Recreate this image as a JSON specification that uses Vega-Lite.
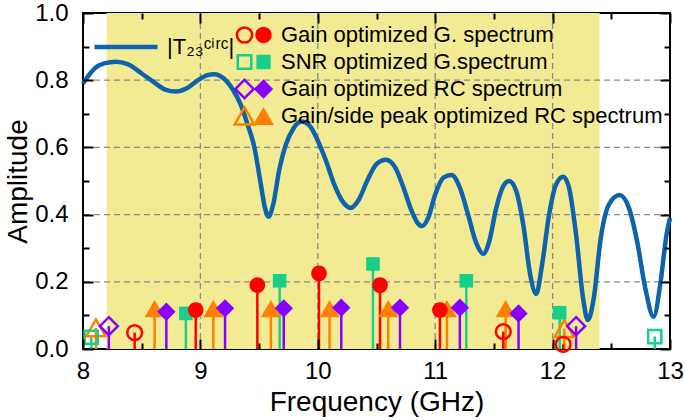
{
  "$schema": "https://vega.github.io/schema/vega-lite/v6.json",
  "width": 587,
  "height": 336,
  "autosize": {"type": "none"},
  "padding": {"left": 83, "top": 13, "right": 15, "bottom": 71},
  "background": "white",
  "config": {
    "font": "Liberation Sans",
    "view": {"stroke": "black", "strokeWidth": 2},
    "legend": {"labelColor": "black", "labelLimit": 500, "padding": 0},
    "axis": {"ticks": true, "tickColor": "black", "tickWidth": 2, "tickOpacity": 1, "domain": false, "grid": false}
  },
  "datasets": {
    "band": [{"start": 8.2, "end": 12.4}],
    "gridx": [{"f": 9}, {"f": 10}, {"f": 11}, {"f": 12}],
    "gridy": [{"amp": 0.2}, {"amp": 0.4}, {"amp": 0.6}, {"amp": 0.8}],
    "curve": [
      {"f": 8.00, "amp": 0.790}, {"f": 8.05, "amp": 0.815}, {"f": 8.10, "amp": 0.835},
      {"f": 8.18, "amp": 0.850}, {"f": 8.28, "amp": 0.855}, {"f": 8.38, "amp": 0.848},
      {"f": 8.50, "amp": 0.820}, {"f": 8.60, "amp": 0.795}, {"f": 8.70, "amp": 0.772},
      {"f": 8.79, "amp": 0.766}, {"f": 8.88, "amp": 0.775}, {"f": 8.98, "amp": 0.800},
      {"f": 9.06, "amp": 0.815}, {"f": 9.12, "amp": 0.818}, {"f": 9.20, "amp": 0.805},
      {"f": 9.28, "amp": 0.770}, {"f": 9.34, "amp": 0.730}, {"f": 9.40, "amp": 0.670},
      {"f": 9.46, "amp": 0.600}, {"f": 9.51, "amp": 0.500}, {"f": 9.55, "amp": 0.420},
      {"f": 9.58, "amp": 0.394}, {"f": 9.62, "amp": 0.430}, {"f": 9.67, "amp": 0.530},
      {"f": 9.73, "amp": 0.610}, {"f": 9.79, "amp": 0.655}, {"f": 9.86, "amp": 0.677},
      {"f": 9.93, "amp": 0.665}, {"f": 10.00, "amp": 0.620}, {"f": 10.07, "amp": 0.560},
      {"f": 10.14, "amp": 0.490}, {"f": 10.21, "amp": 0.440}, {"f": 10.28, "amp": 0.420},
      {"f": 10.35, "amp": 0.445}, {"f": 10.42, "amp": 0.500}, {"f": 10.50, "amp": 0.550},
      {"f": 10.58, "amp": 0.563}, {"f": 10.66, "amp": 0.540}, {"f": 10.73, "amp": 0.480},
      {"f": 10.80, "amp": 0.410}, {"f": 10.85, "amp": 0.375}, {"f": 10.89, "amp": 0.366},
      {"f": 10.94, "amp": 0.390}, {"f": 11.00, "amp": 0.460}, {"f": 11.07, "amp": 0.510},
      {"f": 11.14, "amp": 0.518}, {"f": 11.21, "amp": 0.480}, {"f": 11.28, "amp": 0.400},
      {"f": 11.35, "amp": 0.315}, {"f": 11.41, "amp": 0.283}, {"f": 11.46, "amp": 0.320},
      {"f": 11.52, "amp": 0.420}, {"f": 11.58, "amp": 0.485}, {"f": 11.63, "amp": 0.500},
      {"f": 11.69, "amp": 0.470}, {"f": 11.75, "amp": 0.370}, {"f": 11.81, "amp": 0.220},
      {"f": 11.86, "amp": 0.164}, {"f": 11.91, "amp": 0.250}, {"f": 11.97, "amp": 0.400},
      {"f": 12.03, "amp": 0.490}, {"f": 12.09, "amp": 0.513}, {"f": 12.14, "amp": 0.480},
      {"f": 12.20, "amp": 0.340}, {"f": 12.26, "amp": 0.150}, {"f": 12.30, "amp": 0.086},
      {"f": 12.35, "amp": 0.150}, {"f": 12.41, "amp": 0.330}, {"f": 12.48, "amp": 0.430},
      {"f": 12.57, "amp": 0.458}, {"f": 12.65, "amp": 0.420}, {"f": 12.72, "amp": 0.320},
      {"f": 12.79, "amp": 0.180}, {"f": 12.86, "amp": 0.096}, {"f": 12.92, "amp": 0.200},
      {"f": 12.97, "amp": 0.340}, {"f": 13.00, "amp": 0.390}
    ],
    "stems": [
      {"series": "Gain/side peak optimized RC spectrum", "f": 8.11, "amp": 0.063, "inband": false},
      {"series": "Gain/side peak optimized RC spectrum", "f": 12.10, "amp": 0.061, "inband": false},
      {"series": "Gain/side peak optimized RC spectrum", "f": 8.61, "amp": 0.12, "inband": true},
      {"series": "Gain/side peak optimized RC spectrum", "f": 9.11, "amp": 0.12, "inband": true},
      {"series": "Gain/side peak optimized RC spectrum", "f": 9.60, "amp": 0.12, "inband": true},
      {"series": "Gain/side peak optimized RC spectrum", "f": 10.10, "amp": 0.12, "inband": true},
      {"series": "Gain/side peak optimized RC spectrum", "f": 10.60, "amp": 0.12, "inband": true},
      {"series": "Gain/side peak optimized RC spectrum", "f": 11.10, "amp": 0.12, "inband": true},
      {"series": "Gain/side peak optimized RC spectrum", "f": 11.60, "amp": 0.12, "inband": true},
      {"series": "Gain optimized RC spectrum", "f": 8.22, "amp": 0.068, "inband": false},
      {"series": "Gain optimized RC spectrum", "f": 12.20, "amp": 0.068, "inband": false},
      {"series": "Gain optimized RC spectrum", "f": 8.71, "amp": 0.111, "inband": true},
      {"series": "Gain optimized RC spectrum", "f": 9.21, "amp": 0.121, "inband": true},
      {"series": "Gain optimized RC spectrum", "f": 9.71, "amp": 0.121, "inband": true},
      {"series": "Gain optimized RC spectrum", "f": 10.20, "amp": 0.123, "inband": true},
      {"series": "Gain optimized RC spectrum", "f": 10.70, "amp": 0.123, "inband": true},
      {"series": "Gain optimized RC spectrum", "f": 11.21, "amp": 0.123, "inband": true},
      {"series": "Gain optimized RC spectrum", "f": 11.71, "amp": 0.106, "inband": true},
      {"series": "SNR optimized G.spectrum", "f": 8.07, "amp": 0.035, "inband": false},
      {"series": "SNR optimized G.spectrum", "f": 12.87, "amp": 0.037, "inband": false},
      {"series": "SNR optimized G.spectrum", "f": 8.876, "amp": 0.106, "inband": true},
      {"series": "SNR optimized G.spectrum", "f": 9.675, "amp": 0.203, "inband": true},
      {"series": "SNR optimized G.spectrum", "f": 10.47, "amp": 0.253, "inband": true},
      {"series": "SNR optimized G.spectrum", "f": 11.265, "amp": 0.203, "inband": true},
      {"series": "SNR optimized G.spectrum", "f": 12.06, "amp": 0.108, "inband": true},
      {"series": "Gain optimized G. spectrum", "f": 8.44, "amp": 0.049, "inband": false},
      {"series": "Gain optimized G. spectrum", "f": 11.58, "amp": 0.052, "inband": false},
      {"series": "Gain optimized G. spectrum", "f": 12.09, "amp": 0.014, "inband": false},
      {"series": "Gain optimized G. spectrum", "f": 8.96, "amp": 0.116, "inband": true},
      {"series": "Gain optimized G. spectrum", "f": 9.485, "amp": 0.19, "inband": true},
      {"series": "Gain optimized G. spectrum", "f": 10.01, "amp": 0.225, "inband": true},
      {"series": "Gain optimized G. spectrum", "f": 10.53, "amp": 0.19, "inband": true},
      {"series": "Gain optimized G. spectrum", "f": 11.04, "amp": 0.116, "inband": true}
    ]
  },
  "layer": [
    {
      "data": {"name": "band"},
      "mark": {"type": "rect", "color": "#F2EB94"},
      "encoding": {
        "x": {
          "field": "start", "type": "quantitative", "scale": {"domain": [8, 13]},
          "axis": {"orient": "bottom", "values": [8.5, 9.5, 10.5, 11.5, 12.5], "labels": false, "title": null,
                   "offset": -6, "tickSize": 6, "zindex": 2}
        },
        "x2": {"field": "end"}
      }
    },
    {
      "data": {"name": "gridx"},
      "mark": {"type": "rule", "color": "#8c8c8c", "strokeWidth": 1.3, "strokeDash": [6, 4]},
      "encoding": {
        "x": {
          "field": "f", "type": "quantitative", "scale": {"domain": [8, 13]},
          "axis": {"orient": "top", "values": [8.5, 9.5, 10.5, 11.5, 12.5], "labels": false, "title": null,
                   "offset": -6, "tickSize": 6, "zindex": 2}
        }
      }
    },
    {
      "data": {"name": "gridy"},
      "mark": {"type": "rule", "color": "#8c8c8c", "strokeWidth": 1.3, "strokeDash": [6, 4]},
      "encoding": {
        "y": {"field": "amp", "type": "quantitative", "scale": {"domain": [0, 1]}, "axis": null}
      }
    },
    {
      "data": {"name": "curve"},
      "mark": {"type": "line", "strokeWidth": 4.5, "interpolate": "monotone"},
      "encoding": {
        "x": {
          "field": "f", "type": "quantitative", "scale": {"domain": [8, 13]},
          "axis": {
            "orient": "bottom",
            "values": [8, 9, 10, 11, 12, 13],
            "format": "d",
            "labelFlush": false, "labelOverlap": false,
            "offset": -10, "tickSize": 10, "zindex": 2,
            "labelFontSize": 24, "labelColor": "black", "labelPadding": 10,
            "title": "Frequency (GHz)", "titleFontSize": 28, "titleFontWeight": "normal",
            "titleColor": "black", "titlePadding": 5
          }
        },
        "y": {
          "field": "amp", "type": "quantitative", "scale": {"domain": [0, 1]},
          "axis": {
            "orient": "left",
            "values": [0, 0.2, 0.4, 0.6, 0.8, 1.0],
            "format": ".1f",
            "labelFlush": false, "labelOverlap": false,
            "offset": -10, "tickSize": 10, "zindex": 2,
            "labelFontSize": 24, "labelColor": "black", "labelPadding": 15,
            "title": "Amplitude", "titleFontSize": 28, "titleFontWeight": "normal",
            "titleColor": "black", "titlePadding": 2
          }
        },
        "color": {
          "datum": "|T₂₃ᶜⁱʳᶜ|",
          "scale": {"range": ["#0D63AC"]},
          "legend": {
            "orient": "none", "legendX": 9, "legendY": 0, "title": null,
            "symbolType": "stroke", "symbolSize": 3969, "symbolStrokeWidth": 4.5,
            "labelFontSize": 22, "labelOffset": 7
          }
        }
      }
    },
    {
      "data": {"name": "stems"},
      "mark": {"type": "rule", "strokeWidth": 2.5},
      "encoding": {
        "x": {
          "field": "f", "type": "quantitative", "scale": {"domain": [8, 13]},
          "axis": {"orient": "top", "values": [8, 9, 10, 11, 12, 13], "labels": false, "title": null,
                   "offset": -10, "tickSize": 10, "zindex": 2}
        },
        "y": {
          "field": "amp", "type": "quantitative", "scale": {"domain": [0, 1]},
          "axis": {"orient": "right", "values": [0, 0.2, 0.4, 0.6, 0.8, 1.0], "labels": false, "title": null,
                   "offset": -10, "tickSize": 10, "zindex": 2}
        },
        "y2": {"datum": 0},
        "color": {
          "field": "series", "type": "nominal", "legend": null,
          "scale": {
            "domain": ["Gain optimized G. spectrum", "SNR optimized G.spectrum", "Gain optimized RC spectrum", "Gain/side peak optimized RC spectrum"],
            "range": ["#FF0000", "#17CF8A", "#8800FF", "#FF8000"]
          }
        }
      }
    },
    {
      "data": {"name": "stems"},
      "transform": [{"filter": "datum.inband === false"}],
      "mark": {"type": "point", "filled": false, "strokeWidth": 2.5, "opacity": 1, "size": 400},
      "encoding": {
        "x": {"field": "f", "type": "quantitative", "scale": {"domain": [8, 13]}, "axis": null},
        "y": {
          "field": "amp", "type": "quantitative", "scale": {"domain": [0, 1]},
          "axis": {"orient": "left", "values": [0.1, 0.3, 0.5, 0.7, 0.9], "labels": false, "title": null,
                   "offset": -6, "tickSize": 6, "zindex": 2}
        },
        "color": {
          "field": "series", "type": "nominal",
          "scale": {
            "domain": ["Gain optimized G. spectrum", "SNR optimized G.spectrum", "Gain optimized RC spectrum", "Gain/side peak optimized RC spectrum"],
            "range": ["#FF0000", "#17CF8A", "#8800FF", "#FF8000"]
          },
          "legend": {
            "orient": "none", "legendX": 150, "legendY": 11, "title": null,
            "symbolSize": 420, "symbolStrokeWidth": 2.5, "labelExpr": "' '",
            "labelFontSize": 22, "rowPadding": 5, "labelOffset": 0, "clipHeight": 22
          }
        },
        "shape": {
          "field": "series", "type": "nominal",
          "scale": {
            "domain": ["Gain optimized G. spectrum", "SNR optimized G.spectrum", "Gain optimized RC spectrum", "Gain/side peak optimized RC spectrum"],
            "range": [
              "M0.74,0A0.74,0.74 0 1,1 -0.74,0A0.74,0.74 0 1,1 0.74,0Z",
              "M-0.66,-0.66H0.66V0.66H-0.66Z",
              "M0,-0.9L0.9,0L0,0.9L-0.9,0Z",
              "M0,-0.84L0.97,0.84L-0.97,0.84Z"
            ]
          }
        }
      }
    },
    {
      "data": {"name": "stems"},
      "transform": [{"filter": "datum.inband === true"}],
      "mark": {"type": "point", "filled": true, "opacity": 1, "size": 400},
      "encoding": {
        "x": {"field": "f", "type": "quantitative", "scale": {"domain": [8, 13]}, "axis": null},
        "y": {
          "field": "amp", "type": "quantitative", "scale": {"domain": [0, 1]},
          "axis": {"orient": "right", "values": [0.1, 0.3, 0.5, 0.7, 0.9], "labels": false, "title": null,
                   "offset": -6, "tickSize": 6, "zindex": 2}
        },
        "color": {
          "field": "series", "type": "nominal",
          "scale": {
            "domain": ["Gain optimized G. spectrum", "SNR optimized G.spectrum", "Gain optimized RC spectrum", "Gain/side peak optimized RC spectrum"],
            "range": ["#FF0000", "#17CF8A", "#8800FF", "#FF8000"]
          },
          "legend": {
            "orient": "none", "legendX": 169, "legendY": 11, "title": null,
            "symbolSize": 440,
            "labelFontSize": 22, "rowPadding": 5, "labelOffset": 6, "clipHeight": 22
          }
        },
        "shape": {
          "field": "series", "type": "nominal",
          "scale": {
            "domain": ["Gain optimized G. spectrum", "SNR optimized G.spectrum", "Gain optimized RC spectrum", "Gain/side peak optimized RC spectrum"],
            "range": [
              "M0.78,0A0.78,0.78 0 1,1 -0.78,0A0.78,0.78 0 1,1 0.78,0Z",
              "M-0.68,-0.68H0.68V0.68H-0.68Z",
              "M0,-0.92L0.92,0L0,0.92L-0.92,0Z",
              "M0,-0.86L1,0.86L-1,0.86Z"
            ]
          }
        }
      }
    }
  ],
  "resolve": {
    "scale": {"color": "independent", "shape": "independent"},
    "axis": {"x": "independent", "y": "independent"}
  }
}
